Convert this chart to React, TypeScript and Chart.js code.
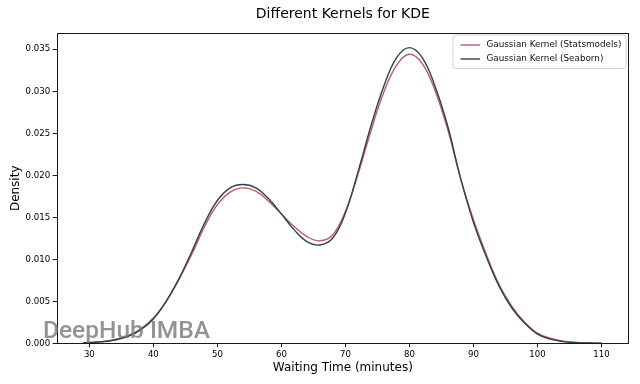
import React, { useEffect, useRef } from 'react';
import { Chart, registerables } from 'chart.js';

Chart.register(...registerables);

const TITLE = 'Different Kernels for KDE';
const X_LABEL = 'Waiting Time (minutes)';
const Y_LABEL = 'Density';
const WATERMARK = 'DeepHub IMBA';

const seriesLabels = ['Gaussian Kernel (Statsmodels)', 'Gaussian Kernel (Seaborn)'];
const seriesColors = ['#c05a6a', '#2f3f4f'];

const waitingTime = [
  29, 30, 32, 34, 36, 38, 40, 42, 44, 46, 48, 50, 52, 54, 56, 58, 60, 62, 64, 66, 68,
  70, 72, 74, 76, 78, 80, 82, 84, 86, 88, 90, 92, 94, 96, 98, 100, 102, 104, 106, 108, 110,
];

const statsmodelsDensity = [
  0.00006, 0.0001, 0.0002, 0.00045, 0.0009, 0.0017, 0.003, 0.005, 0.0076, 0.0106, 0.0139,
  0.0165, 0.018, 0.0185, 0.0181, 0.0169, 0.0154, 0.0139, 0.0127, 0.0122, 0.0129, 0.0157,
  0.0202, 0.0253, 0.0299, 0.0331, 0.0344, 0.0333, 0.0301, 0.0254, 0.0196, 0.0147, 0.0106,
  0.007, 0.0044, 0.0025, 0.0012, 0.0006, 0.00025, 0.0001, 0.00004, 0.00002,
];

const seabornDensity = [
  0.00005, 0.00008, 0.00018, 0.0004, 0.0008, 0.0016, 0.0029, 0.005, 0.0077, 0.0109, 0.0143,
  0.017, 0.0185, 0.0189, 0.0185, 0.0172, 0.0154, 0.0135, 0.0121, 0.0117, 0.0125, 0.0155,
  0.0205, 0.0259, 0.0306, 0.034, 0.0352, 0.034, 0.0306, 0.0258, 0.0196, 0.0144, 0.0103,
  0.0068, 0.0042, 0.0024, 0.0011, 0.0005, 0.0002, 0.00008, 0.00003, 0.00001,
];

const xTicks = [30, 40, 50, 60, 70, 80, 90, 100, 110];
const yTicks = [0, 0.005, 0.01, 0.015, 0.02, 0.025, 0.03, 0.035];

const FONT = '"DejaVu Sans", sans-serif';

const decorPlugin = {
  id: 'decor',
  afterDraw(chart: any) {
    const ctx = chart.ctx as CanvasRenderingContext2D;
    const a = chart.chartArea;
    ctx.save();

    // frame (all four spines)
    ctx.strokeStyle = '#1a1a1a';
    ctx.lineWidth = 1;
    ctx.strokeRect(Math.round(a.left) + 0.5, Math.round(a.top) + 0.5, Math.round(a.right - a.left) - 1, Math.round(a.bottom - a.top));

    // watermark
    ctx.font = '500 24.5px Roboto, sans-serif';
    ctx.fillStyle = 'rgba(120,120,120,0.8)';
    ctx.textAlign = 'left';
    ctx.textBaseline = 'alphabetic';
    ctx.fillText(WATERMARK, 43, 338);

    // legend
    const lx = 453, ly = 35, lw = 173, lh = 33.5;
    ctx.beginPath();
    const r = 3;
    ctx.moveTo(lx + r, ly);
    ctx.arcTo(lx + lw, ly, lx + lw, ly + lh, r);
    ctx.arcTo(lx + lw, ly + lh, lx, ly + lh, r);
    ctx.arcTo(lx, ly + lh, lx, ly, r);
    ctx.arcTo(lx, ly, lx + lw, ly, r);
    ctx.closePath();
    ctx.fillStyle = 'rgba(255,255,255,0.85)';
    ctx.fill();
    ctx.strokeStyle = '#d2d2d2';
    ctx.lineWidth = 1;
    ctx.stroke();
    ctx.font = `8.8px ${FONT}`;
    ctx.textBaseline = 'middle';
    chart.data.datasets.forEach((ds: any, i: number) => {
      const y = 45 + i * 14;
      ctx.strokeStyle = ds.borderColor;
      ctx.lineWidth = 1.4;
      ctx.beginPath();
      ctx.moveTo(460.5, y);
      ctx.lineTo(480, y);
      ctx.stroke();
      ctx.fillStyle = '#111';
      ctx.fillText(ds.label, 486.5, y);
    });

    // title
    const cx = (a.left + a.right) / 2;
    ctx.fillStyle = '#000';
    ctx.textAlign = 'center';
    ctx.textBaseline = 'middle';
    ctx.font = `14px ${FONT}`;
    ctx.fillText(TITLE, cx, 14.5);

    // x label
    ctx.font = `12px ${FONT}`;
    ctx.fillText(X_LABEL, cx, 368);

    // y label
    ctx.save();
    ctx.translate(16, (a.top + a.bottom) / 2);
    ctx.rotate(-Math.PI / 2);
    ctx.fillText(Y_LABEL, 0, 0);
    ctx.restore();

    ctx.restore();
  },
};

export default function App() {
  const canvasRef = useRef<HTMLCanvasElement | null>(null);

  useEffect(() => {
    const canvas = canvasRef.current;
    if (!canvas) return;
    const chart = new Chart(canvas, {
      type: 'line',
      data: {
        datasets: [
          {
            label: seriesLabels[0],
            data: waitingTime.map((x, i) => ({ x, y: statsmodelsDensity[i] })),
            borderColor: seriesColors[0],
            borderWidth: 1.4,
            pointRadius: 0,
            fill: false,
            tension: 0.4,
            order: 1,
          },
          {
            label: seriesLabels[1],
            data: waitingTime.map((x, i) => ({ x, y: seabornDensity[i] })),
            borderColor: seriesColors[1],
            borderWidth: 1.4,
            pointRadius: 0,
            fill: false,
            tension: 0.4,
            order: 0,
          },
        ],
      },
      options: {
        animation: false,
        responsive: false,
        maintainAspectRatio: false,
        devicePixelRatio: 1,
        events: [],
        layout: { padding: { top: 33.3, right: 11, bottom: 0, left: 0 } },
        plugins: {
          legend: { display: false },
          title: { display: false },
          tooltip: { enabled: false },
        },
        scales: {
          x: {
            type: 'linear',
            min: 24.9,
            max: 114.3,
            afterBuildTicks: (scale: any) => {
              scale.ticks = xTicks.map((v) => ({ value: v }));
            },
            afterFit: (scale: any) => {
              scale.height = 384 - 343.3;
            },
            ticks: {
              autoSkip: false,
              maxRotation: 0,
              padding: 2,
              color: '#000',
              font: { family: 'DejaVu Sans', size: 8.6 },
              callback: (v: any) => String(v),
            },
            grid: { display: true, drawOnChartArea: false, drawTicks: true, tickLength: 4, color: '#1a1a1a' },
            border: { display: false },
          },
          y: {
            type: 'linear',
            min: 0,
            max: 0.0369,
            afterBuildTicks: (scale: any) => {
              scale.ticks = yTicks.map((v) => ({ value: v }));
            },
            afterFit: (scale: any) => {
              scale.width = 56.7;
            },
            ticks: {
              autoSkip: false,
              padding: 2.5,
              color: '#000',
              font: { family: 'DejaVu Sans', size: 8.6 },
              callback: (v: any) => Number(v).toFixed(3),
            },
            grid: { display: true, drawOnChartArea: false, drawTicks: true, tickLength: 4, color: '#1a1a1a' },
            border: { display: false },
          },
        },
      },
      plugins: [decorPlugin],
    } as any);
    return () => chart.destroy();
  }, []);

  return (
    <div style={{ position: 'fixed', left: 0, top: 0, width: 640, height: 384, background: '#fff' }}>
      <canvas ref={canvasRef} width={640} height={384} style={{ display: 'block', width: 640, height: 384 }} />
    </div>
  );
}
